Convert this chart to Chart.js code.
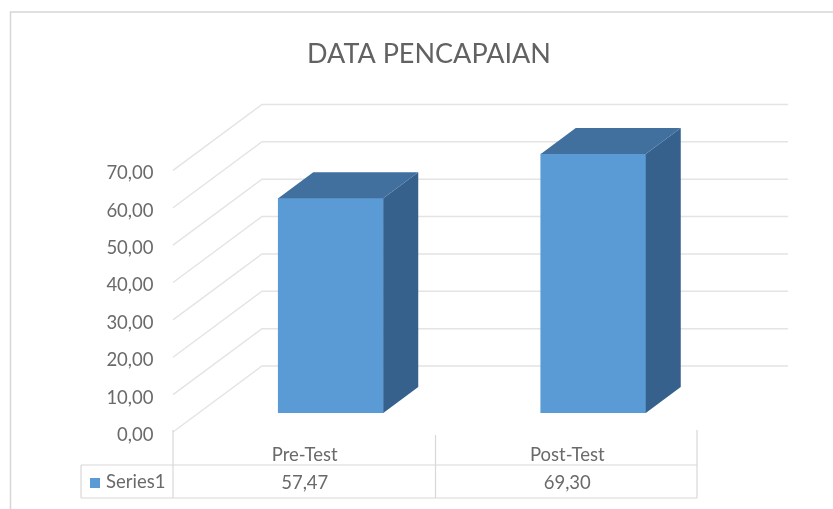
<!DOCTYPE html>
<html>
<head>
<meta charset="utf-8">
<title>Data Pencapaian</title>
<script src="https://cdn.jsdelivr.net/npm/chart.js@4/dist/chart.umd.min.js"></script>
<style>
    html, body { margin: 0; padding: 0; background: #fff; overflow: hidden; }
    /* the reference is a soft, resized screenshot */
    canvas { display: block; filter: blur(0.5px); }
</style>
</head>
<body>
<canvas id="chart" width="833" height="509"></canvas>
<script>
const categories = ['Pre-Test', 'Post-Test'];
const seriesName = 'Series1';
const seriesValues = [57.47, 69.30];
const chartTitle = 'DATA PENCAPAIAN';

const FONT = 'Lato, "Open Sans", sans-serif';
const TEXT = '#6a6a6a';
const GRID = '#e4e4e4';
const TABLE_LINE = '#d8d8d8';
const FRONT = '#5b9bd5';
const TOP = '#41709f';
const SIDE = '#37618d';

function formatValue(value) {
    return Number(value).toFixed(2).replace('.', ',');
}

// Excel style 3D walls, drawn behind the bars
const wallPlugin = {
    id: 'walls',
    beforeDatasetsDraw(chart) {
        const { ctx } = chart;
        const y = chart.scales.y;
        ctx.save();
        ctx.strokeStyle = GRID;
        ctx.lineWidth = 1.5;
        y.ticks.forEach(tick => {
            const py = y.getPixelForValue(tick.value);
            ctx.beginPath();
            ctx.moveTo(173, py + 19);
            ctx.lineTo(262, py - 47);
            ctx.lineTo(788, py - 47);
            ctx.stroke();
        });
        ctx.restore();
    }
};

// side and top faces of the columns
const columnPlugin = {
    id: 'columns3d',
    afterDatasetsDraw(chart) {
        const { ctx } = chart;
        const dx = 35;
        const dy = -26;
        chart.getDatasetMeta(0).data.forEach(bar => {
            const left = bar.x - bar.width / 2;
            const right = bar.x + bar.width / 2;
            ctx.save();
            ctx.fillStyle = SIDE;
            ctx.beginPath();
            ctx.moveTo(right, bar.y);
            ctx.lineTo(right + dx, bar.y + dy);
            ctx.lineTo(right + dx, bar.base + dy);
            ctx.lineTo(right, bar.base);
            ctx.closePath();
            ctx.fill();
            ctx.fillStyle = TOP;
            ctx.beginPath();
            ctx.moveTo(left, bar.y);
            ctx.lineTo(left + dx, bar.y + dy);
            ctx.lineTo(right + dx, bar.y + dy);
            ctx.lineTo(right, bar.y);
            ctx.closePath();
            ctx.fill();
            ctx.restore();
        });
    }
};

// picture frame and the data table under the axis
const tablePlugin = {
    id: 'dataTable',
    afterDraw(chart) {
        const { ctx } = chart;
        const x = chart.scales.x;
        const tableShift = 26;
        ctx.save();

        ctx.strokeStyle = '#d6d6d6';
        ctx.lineWidth = 1.5;
        ctx.beginPath();
        ctx.moveTo(10.5, 509);
        ctx.lineTo(10.5, 12);
        ctx.lineTo(833, 12);
        ctx.stroke();

        ctx.strokeStyle = TABLE_LINE;
        ctx.lineWidth = 1.2;
        ctx.beginPath();
        ctx.moveTo(173, 430); ctx.lineTo(173, 498);
        ctx.moveTo(435.5, 435); ctx.lineTo(435.5, 498);
        ctx.moveTo(697, 430); ctx.lineTo(697, 498);
        ctx.moveTo(81, 465); ctx.lineTo(697, 465);
        ctx.moveTo(81, 498); ctx.lineTo(697, 498);
        ctx.moveTo(81, 465); ctx.lineTo(81, 498);
        ctx.stroke();

        ctx.fillStyle = FRONT;
        ctx.fillRect(90, 478, 10, 10);

        ctx.fillStyle = TEXT;
        ctx.font = '18.5px ' + FONT;
        ctx.textBaseline = 'middle';
        ctx.textAlign = 'left';
        ctx.fillText(seriesName, 106, 482);
        ctx.textAlign = 'center';
        seriesValues.forEach((value, i) => {
            ctx.fillText(formatValue(value), x.getPixelForValue(i) - tableShift, 483);
        });
        ctx.restore();
    }
};

new Chart(document.getElementById('chart'), {
    type: 'bar',
    data: {
        labels: categories,
        datasets: [{
            label: seriesName,
            data: seriesValues,
            backgroundColor: FRONT,
            borderWidth: 0,
            barThickness: 105
        }]
    },
    plugins: [wallPlugin, columnPlugin, tablePlugin],
    options: {
        responsive: false,
        animation: false,
        layout: { padding: { left: 25, right: 0, top: 0, bottom: 0 } },
        plugins: {
            legend: { display: false },
            tooltip: { enabled: false },
            title: {
                display: true,
                text: chartTitle,
                color: '#626262',
                font: { family: FONT, size: 27, weight: 'normal' },
                padding: { top: 38, bottom: 81 }
            }
        },
        scales: {
            x: {
                grid: { display: false },
                border: { display: false },
                afterFit: scale => { scale.height = 96; },
                ticks: {
                    color: TEXT,
                    font: { family: FONT, size: 18.5 },
                    padding: 23,
                    labelOffset: -26,
                    maxRotation: 0
                }
            },
            y: {
                min: 0,
                max: 70,
                grid: { display: false },
                border: { display: false },
                afterFit: scale => { scale.width = 174.5; },
                ticks: {
                    stepSize: 10,
                    color: TEXT,
                    font: { family: FONT, size: 18.5 },
                    padding: 38,
                    labelOffset: 22,
                    callback: value => formatValue(value)
                }
            },
            // empty axis, only keeps the plot area clear of the right side
            yRight: {
                position: 'right',
                grid: { display: false },
                border: { display: false },
                ticks: { display: false },
                afterFit: scale => { scale.width = 108.5; }
            }
        }
    }
});
</script>
</body>
</html>
